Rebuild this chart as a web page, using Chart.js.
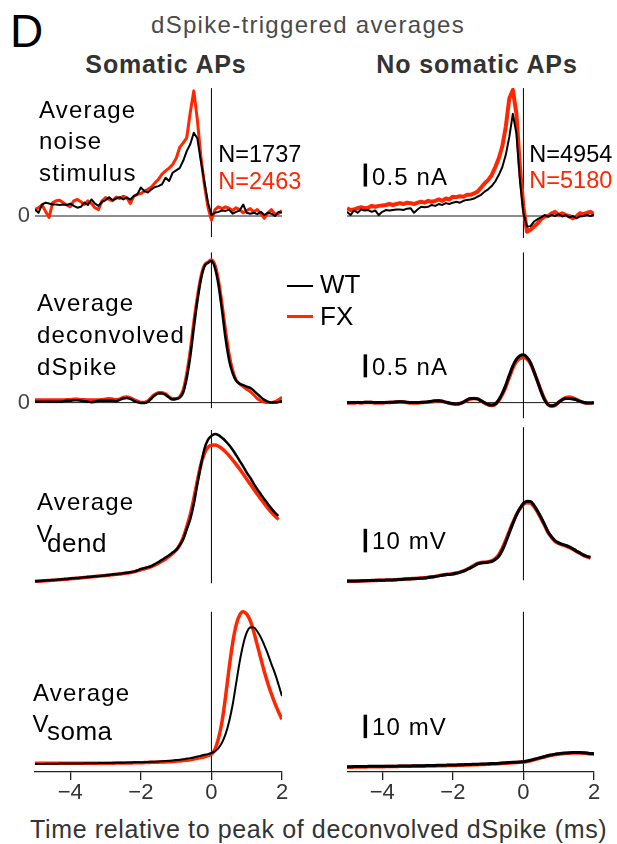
<!DOCTYPE html>
<html><head><meta charset="utf-8">
<script src="https://cdn.jsdelivr.net/npm/chart.js@4.4.0/dist/chart.umd.min.js"></script>
<style>
html,body{margin:0;padding:0;background:#fff;}
#fig{position:relative;width:617px;height:844px;overflow:hidden;background:#fff;font-family:"Liberation Sans",Arial,Helvetica,sans-serif;}
#fig canvas{position:absolute;}
.t{position:absolute;white-space:nowrap;line-height:1;}
.lg{position:absolute;}
</style></head><body><div id="fig"></div>
<script>
// ---------------- DATA ----------------
const timeMs = [-5.0,-4.9,-4.8,-4.7,-4.6,-4.5,-4.4,-4.3,-4.2,-4.1,-4.0,-3.9,-3.8,-3.7,-3.6,-3.5,-3.4,-3.3,-3.2,-3.1,-3.0,-2.9,-2.8,-2.7,-2.6,-2.5,-2.4,-2.3,-2.2,-2.1,-2.0,-1.9,-1.8,-1.7,-1.6,-1.5,-1.4,-1.3,-1.2,-1.1,-1.0,-0.9,-0.8,-0.7,-0.6,-0.5,-0.4,-0.3,-0.2,-0.1,0.0,0.1,0.2,0.3,0.4,0.5,0.6,0.7,0.8,0.9,1.0,1.1,1.2,1.3,1.4,1.5,1.6,1.7,1.8,1.9,2.0];
const xTickValues = [-4, -2, 0, 2];
const yZeroTick = [0];
const columnTitles = ['Somatic APs', 'No somatic APs'];
const seriesNames = ['WT', 'FX'];
const nCounts = {somatic: {WT: 1737, FX: 2463}, noSomatic: {WT: 4954, FX: 5180}};

// Average noise stimulus (nA)
const noiseSomWT = [0.14,0.07,0.25,0.29,0.27,0.25,0.25,0.24,0.25,0.24, 0.27,0.22,0.18,0.20,0.29,0.24,0.36,0.27,0.22,0.31, 0.34,0.41,0.34,0.38,0.41,0.36,0.40,0.36,0.43,0.47, 0.62,0.54,0.51,0.58,0.63,0.65,0.69,0.83,0.76,0.94, 0.99,1.04,1.20,1.41,1.56,1.81,1.69,1.20,0.75,0.30, 0.02, 0.07,0.09,0.12,0.11,0.14,0.05,0.09,0.12,0.25,0.07, 0.05,0.07,0.04,0.09,0.02,0.07,0.05,0.00,0.09,0.07];
const noiseSomFX = [0.14,0.18,0.24,0.10,-0.03,0.29,0.33,0.34,0.29,0.24, 0.20,0.33,0.36,0.31,0.25,0.33,0.27,0.18,0.14,0.33, 0.40,0.36,0.33,0.41,0.38,0.43,0.40,0.27,0.43,0.47, 0.49,0.54,0.58,0.63,0.72,0.80,0.91,0.98,1.04,1.12, 1.25,1.49,1.59,1.70,2.25,2.72,2.10,1.30,0.68,0.20, -0.09, 0.14,0.20,0.16,0.20,0.17,0.12,0.18,0.14,0.07,0.12, 0.16,0.09,0.14,0.05,-0.05,0.07,0.14,0.04,0.05,0.12];
const noiseNoSomWT = [0.09,0.02,0.12,0.07,0.14,0.12,0.13,0.09,0.12,0.02, 0.09,0.13,0.12,0.13,0.14,0.14,0.13,0.16,0.17,0.07, 0.14,0.20,0.19,0.20,0.24,0.22,0.26,0.24,0.28,0.26, 0.29,0.31,0.29,0.33,0.35,0.36,0.38,0.42,0.46,0.53, 0.58,0.65,0.75,0.89,1.06,1.33,1.72,2.22,1.80,0.78, 0.06, -0.23,-0.22,-0.12,-0.07,-0.03,0.02,-0.01,0.02,0.00,0.04, -0.01,0.02,-0.03,0.00,-0.05,-0.01,0.00,0.02,0.00,0.02];
const noiseNoSomFX = [0.17,0.13,0.14,0.17,0.19,0.17,0.18,0.22,0.20,0.22, 0.23,0.24,0.26,0.24,0.26,0.28,0.26,0.29,0.28,0.26, 0.29,0.31,0.29,0.33,0.31,0.33,0.36,0.33,0.38,0.36, 0.42,0.41,0.43,0.42,0.46,0.46,0.49,0.53,0.62,0.71, 0.78,0.89,1.06,1.25,1.51,1.94,2.56,2.74,2.23,1.07, 0.20, -0.34,-0.30,-0.23,-0.16,-0.07,-0.01,0.00,0.06,0.09,0.02, 0.06,0.02,0.00,-0.05,-0.01,0.06,0.04,0.07,0.09,0.04];

// Average deconvolved dSpike (nA)
const dspikeSomWT = [0.02,0.02,0.02,0.02,0.02,0.02,0.02,0.02,0.03,0.04, 0.04,0.05,0.05,0.04,0.03,0.02,0.01,0.02,0.04,0.04, 0.04,0.04,0.04,0.03,0.06,0.09,0.10,0.08,0.04,0.01, -0.01,-0.01,0.02,0.09,0.16,0.20,0.20,0.17,0.11,0.07, 0.08,0.11,0.22,0.53,1.00,1.62,2.20,2.67,2.96,3.04, 3.08, 2.93,2.56,2.01,1.40,0.93,0.64,0.48,0.41,0.38,0.35, 0.32,0.26,0.19,0.12,0.06,0.02,0.00,0.00,0.01,0.04];
const dspikeSomFX = [0.06,0.06,0.06,0.06,0.06,0.06,0.06,0.06,0.06,0.07, 0.07,0.08,0.08,0.07,0.07,0.06,0.06,0.06,0.06,0.07, 0.08,0.09,0.08,0.07,0.08,0.12,0.13,0.11,0.07,0.04, 0.01,0.01,0.04,0.12,0.18,0.22,0.22,0.19,0.13,0.09, 0.09,0.13,0.28,0.64,1.14,1.76,2.30,2.74,2.99,3.06, 3.11, 3.00,2.67,2.16,1.58,1.07,0.71,0.49,0.41,0.35,0.29, 0.24,0.17,0.09,0.04,0.01,0.00,0.00,0.02,0.06,0.12];
const dspikeNoSomWT = [0.00,0.00,0.00,0.00,0.00,0.01,0.01,0.01,0.00,0.00, 0.00,0.00,0.01,0.01,0.02,0.02,0.02,0.01,0.00,0.00, 0.00,0.01,0.01,0.02,0.03,0.04,0.04,0.03,0.01,-0.01, -0.02,-0.03,-0.02,0.01,0.06,0.09,0.09,0.08,0.04,0.00, -0.04,-0.05,-0.03,0.06,0.20,0.38,0.60,0.80,0.94,1.02, 1.04, 0.99,0.87,0.67,0.46,0.24,0.06,-0.05,-0.07,-0.05,0.01, 0.06,0.09,0.09,0.08,0.06,0.03,0.01,-0.01,-0.01,0.00];
const dspikeNoSomFX = [-0.01,-0.01,-0.01,0.00,-0.01,0.00,0.00,0.00,-0.01,-0.01, -0.01,0.00,0.00,0.01,0.01,0.02,0.01,0.00,-0.01,-0.01, -0.01,0.00,0.01,0.01,0.02,0.03,0.04,0.03,0.01,-0.01, -0.03,-0.03,-0.02,0.01,0.05,0.08,0.09,0.08,0.04,-0.01, -0.05,-0.06,-0.04,0.04,0.17,0.34,0.55,0.75,0.89,0.96, 0.98, 0.95,0.85,0.67,0.47,0.26,0.08,-0.04,-0.08,-0.06,0.01, 0.07,0.11,0.12,0.10,0.07,0.03,0.00,-0.01,-0.01,0.00];

// Average V dend (mV, relative to baseline)
const vdendSomWT = [0.0,0.1,0.2,0.3,0.4,0.5,0.7,0.8,0.9,1.0, 1.2,1.3,1.4,1.5,1.7,1.8,1.9,2.1,2.2,2.4, 2.5,2.7,2.9,3.0,3.2,3.4,3.6,3.8,4.1,4.6, 5.2,5.6,6.0,6.5,7.3,8.2,9.1,10.1,11.1,12.2, 13.3,15.3,17.9,22.1,26.4,32.8,41.3,49.1,56.2,60.1, 61.8, 62.6,62.1,61.0,59.6,57.9,55.9,53.6,51.2,48.8,46.2, 44.0,41.4,39.1,37.0,34.9,32.9,30.9,29.2,27.8,null];
const vdendSomFX = [0.1,0.0,0.1,0.2,0.3,0.4,0.5,0.7,0.8,0.9, 1.1,1.2,1.3,1.5,1.6,1.8,1.9,2.0,2.2,2.3, 2.5,2.6,2.8,3.0,3.1,3.3,3.5,3.7,4.0,4.4, 4.9,5.3,5.7,6.2,6.9,7.7,8.6,9.5,10.6,11.8, 13.2,15.4,18.6,23.2,28.3,35.0,42.6,49.6,54.3,56.9, 57.8, 57.9,57.4,56.4,55.0,53.4,51.6,49.7,47.7,45.6,43.4, 41.3,39.1,37.0,35.0,33.0,31.1,29.3,27.7,26.3,null];
const vdendNoSomWT = [0.1,0.1,0.1,0.1,0.2,0.2,0.3,0.3,0.4,0.4, 0.4,0.5,0.6,0.6,0.7,0.8,0.9,1.0,1.0,1.1, 1.2,1.3,1.4,1.6,1.8,2.0,2.3,2.6,2.8,2.9, 3.1,3.4,3.8,4.3,5.0,5.7,6.5,7.4,7.8,7.9, 8.1,8.4,9.2,10.6,13.2,16.7,20.6,24.5,28.1,30.9, 33.1, 34.0,33.9,32.3,29.9,27.1,24.1,21.0,18.9,17.2,16.3, 15.7,15.2,14.6,13.8,12.9,12.1,11.2,10.6,10.2,null];
const vdendNoSomFX = [0.0,0.0,0.0,0.1,0.1,0.2,0.2,0.3,0.3,0.4, 0.4,0.5,0.5,0.6,0.7,0.8,0.9,1.0,1.1,1.2, 1.3,1.4,1.5,1.7,1.9,2.1,2.4,2.7,2.9,3.0, 3.2,3.5,3.9,4.4,5.1,5.9,6.8,7.6,8.0,8.1, 8.3,8.7,9.7,11.3,14.0,17.5,21.3,25.0,28.3,30.8, 32.7, 33.4,33.2,31.7,29.4,26.6,23.7,20.7,18.6,16.9,16.1, 15.5,15.0,14.4,13.6,12.7,11.9,11.0,10.4,9.9,null];

// Average V soma (mV, relative to baseline)
const vsomaSomWT = [1.3,1.3,1.3,1.4,1.4,1.4,1.4,1.5,1.5,1.5, 1.5,1.5,1.5,1.5,1.6,1.6,1.6,1.6,1.7,1.7, 1.7,1.7,1.8,1.8,1.8,1.8,1.9,1.9,2.0,2.0, 2.1,2.1,2.2,2.3,2.3,2.4,2.5,2.6,2.7,2.8, 3.0,3.1,3.3,3.6,3.8,4.1,4.5,4.8,5.2,5.5, 6.0, 6.7,8.1,10.4,14.0,19.3,26.4,35.6,44.8,52.2,57.2, 59.4,59.4,57.7,55.2,51.8,48.1,43.8,39.9,35.2,30.2];
const vsomaSomFX = [1.6,1.6,1.6,1.6,1.6,1.6,1.6,1.6,1.6,1.6, 1.6,1.6,1.6,1.6,1.6,1.6,1.6,1.6,1.6,1.6, 1.6,1.6,1.6,1.7,1.7,1.7,1.7,1.7,1.8,1.8, 1.8,1.9,1.9,2.0,2.0,2.1,2.2,2.2,2.3,2.4, 2.5,2.6,2.8,2.9,3.1,3.4,3.7,4.0,4.4,4.9, 5.5, 7.5,12.2,19.3,29.9,42.0,52.6,60.4,64.7,66.1,65.1, 62.3,57.6,51.9,46.2,40.6,35.6,31.1,27.1,23.5,20.3];
const vsomaNoSomWT = [0.1,0.1,0.2,0.2,0.2,0.2,0.3,0.3,0.3,0.3, 0.3,0.4,0.4,0.4,0.4,0.5,0.5,0.5,0.5,0.6, 0.6,0.6,0.6,0.7,0.7,0.7,0.8,0.8,0.8,0.9, 0.9,0.9,1.0,1.0,1.1,1.1,1.2,1.2,1.3,1.3, 1.4,1.5,1.5,1.6,1.7,1.8,1.9,2.0,2.1,2.2, 2.3, 2.6,2.9,3.3,3.7,4.1,4.5,4.9,5.2,5.5,5.7, 5.9,6.0,6.1,6.2,6.2,6.2,6.1,6.0,5.8,5.7];
const vsomaNoSomFX = [-0.1,-0.1,0.0,0.0,0.0,0.0,0.1,0.1,0.1,0.1, 0.1,0.2,0.2,0.2,0.2,0.3,0.3,0.3,0.3,0.4, 0.4,0.4,0.4,0.5,0.5,0.5,0.6,0.6,0.6,0.7, 0.7,0.7,0.8,0.8,0.9,0.9,1.0,1.0,1.1,1.1, 1.2,1.3,1.3,1.4,1.5,1.6,1.7,1.8,1.9,2.0, 2.1, 2.4,2.7,3.1,3.5,3.9,4.3,4.7,5.0,5.3,5.5, 5.7,5.8,5.9,6.0,6.0,6.0,5.9,5.8,5.6,5.5];

const scaleBarValues = [0.5, 0.5, 10, 10];
const scaleBarUnits = ['nA', 'nA', 'mV', 'mV'];

// ---------------- STYLE / LAYOUT ----------------
const RED = '#ff2600';
const FONT = '"Liberation Sans", Arial, Helvetica, sans-serif';
Chart.defaults.font.family = FONT;

const fig = document.getElementById('fig');

const decor = {
  id: 'decor',
  beforeDatasetsDraw(chart, args, o) {
    const ctx = chart.ctx, x = chart.scales.x, y = chart.scales.y;
    ctx.save();
    if (o.zero) {
      const py = y.getPixelForValue(0);
      ctx.strokeStyle = '#1a1a1a'; ctx.lineWidth = 1;
      ctx.beginPath();
      ctx.moveTo(x.getPixelForValue(x.min), py);
      ctx.lineTo(x.getPixelForValue(x.max), py);
      ctx.stroke();
    }
    if (o.vline) {
      const px = x.getPixelForValue(0);
      ctx.strokeStyle = '#000'; ctx.lineWidth = 1;
      ctx.beginPath();
      ctx.moveTo(px, y.getPixelForValue(o.vline.top));
      ctx.lineTo(px, y.getPixelForValue(o.vline.bottom));
      ctx.stroke();
    }
    ctx.restore();
  },
  afterDatasetsDraw(chart, args, o) {
    if (!o.bar) return;
    const ctx = chart.ctx, x = chart.scales.x, y = chart.scales.y;
    const px = x.getPixelForValue(o.bar.x);
    const y0 = y.getPixelForValue(o.bar.from), y1 = y.getPixelForValue(o.bar.from + o.bar.len);
    ctx.save();
    ctx.fillStyle = '#000';
    ctx.fillRect(px - 1.75, y1, 3.5, y0 - y1);
    ctx.restore();
  }
};
Chart.register(decor);

const rows = [
  {top: 78,  area: 161, ymin: -0.5, ymax: 3.0, zero: true,  yTicks: yZeroTick, smooth: false},
  {top: 251, area: 170, ymin: -0.4, ymax: 3.3, zero: true,  yTicks: yZeroTick, smooth: true},
  {top: 426, area: 160, ymin: -2,   ymax: 66,  zero: false, yTicks: [], smooth: true},
  {top: 608, area: 164, ymin: -2.1, ymax: 67.7, zero: false, yTicks: [], smooth: true, xAxis: true}
];
const panelData = [
  [[noiseSomWT, noiseSomFX], [noiseNoSomWT, noiseNoSomFX]],
  [[dspikeSomWT, dspikeSomFX], [dspikeNoSomWT, dspikeNoSomFX]],
  [[vdendSomWT, vdendSomFX], [vdendNoSomWT, vdendNoSomFX]],
  [[vsomaSomWT, vsomaSomFX], [vsomaNoSomWT, vsomaNoSomFX]]
];
const lineWidths = [
  [[2, 3], [2, 4]],
  [[2.5, 3], [3, 3.5]],
  [[2.5, 3.5], [3, 3.5]],
  [[2, 3.5], [3, 3.5]]
];
const vlines = [
  [{top: 2.78, bottom: -0.46}, {top: 2.78, bottom: -0.48}],
  [{top: 3.27, bottom: -0.12}, {top: 3.27, bottom: -0.34}],
  [{top: 64.3, bottom: -0.85}, {top: 65.5, bottom: 0.43}],
  [{top: 66.1, bottom: -2.1}, {top: 66.1, bottom: -2.1}]
];
const barFrom = [0.64, 0.55, 12.3, 12.3];
const cols = [{left: 0, width: 300, padRight: 18, yAxis: true}, {left: 347, width: 270, padRight: 23, yAxis: false}];

function fmtTick(v) { return v < 0 ? '\u2212' + Math.abs(v) : String(v); }

rows.forEach((r, ri) => {
  cols.forEach((c, ci) => {
    const cv = document.createElement('canvas');
    const h = r.area + (r.xAxis ? 40 : 0);
    cv.width = c.width; cv.height = h;
    cv.style.left = c.left + 'px'; cv.style.top = r.top + 'px';
    cv.style.width = c.width + 'px'; cv.style.height = h + 'px';
    fig.appendChild(cv);
    const [wt, fx] = panelData[ri][ci];
    const mk = (vals, color, w, label) => ({
      label, borderColor: color, borderWidth: w, pointRadius: 0, fill: false,
      data: timeMs.map((t, i) => ({x: t, y: vals[i]})).filter(p => p.y !== null),
      tension: 0, cubicInterpolationMode: r.smooth ? 'monotone' : 'default',
      borderJoinStyle: 'round', borderCapStyle: 'butt'
    });
    const xScale = {
      type: 'linear', min: -5, max: 2, display: !!r.xAxis,
      afterBuildTicks: s => { s.ticks = xTickValues.map(v => ({value: v})); },
      grid: {display: true, drawOnChartArea: false, drawTicks: true, tickLength: 8, color: '#222', lineWidth: 1.3},
      border: {display: true, color: '#222', width: 1.3},
      ticks: {font: {size: 22, family: FONT}, color: '#333', padding: 0, maxRotation: 0, autoSkip: false, callback: v => fmtTick(v)}
    };
    if (r.xAxis) xScale.afterFit = s => { s.height = 40; s.paddingLeft = 0; s.paddingRight = 0; };
    const yScale = {
      type: 'linear', min: r.ymin, max: r.ymax, display: c.yAxis,
      afterBuildTicks: s => { s.ticks = r.yTicks.map(v => ({value: v})); },
      grid: {display: false, drawTicks: false}, border: {display: false},
      ticks: {display: r.yTicks.length > 0, font: {size: 22, family: FONT}, color: '#444', padding: 5, callback: v => String(v)}
    };
    if (c.yAxis) yScale.afterFit = s => { s.width = 35; s.paddingTop = 0; s.paddingBottom = 0; };
    new Chart(cv, {
      type: 'line',
      data: {datasets: [
        mk(wt, '#000', lineWidths[ri][ci][0], seriesNames[0]),
        mk(fx, RED, lineWidths[ri][ci][1], seriesNames[1])
      ]},
      options: {
        responsive: false, animation: false, events: [],
        layout: {padding: {left: 0, top: 0, bottom: 0, right: c.padRight}},
        plugins: {
          legend: {display: false}, tooltip: {enabled: false},
          decor: {
            zero: r.zero, vline: vlines[ri][ci],
            bar: ci === 1 ? {x: -4.48, from: barFrom[ri], len: scaleBarValues[ri]} : null
          }
        },
        scales: {x: xScale, y: yScale}
      }
    });
  });
});

// ---------------- TEXT ----------------
function txt(s, opt) {
  const d = document.createElement('div');
  d.className = 't';
  d.textContent = s;
  const size = opt.size || 24;
  d.style.fontSize = size + 'px';
  d.style.top = (opt.b - 0.8465 * size) + 'px';
  d.style.color = opt.color || '#000';
  if (opt.bold) d.style.fontWeight = 'bold';
  if (opt.ls) d.style.letterSpacing = opt.ls + 'px';
  if (opt.cx !== undefined) { d.style.left = opt.cx + 'px'; d.style.transform = 'translateX(-50%)'; }
  else d.style.left = opt.x + 'px';
  fig.appendChild(d);
}
txt('D', {x: 10, b: 47, size: 46});
txt('dSpike-triggered averages', {cx: 308, b: 33.3, size: 24, color: '#4a4a4a', ls: 1.3});
txt(columnTitles[0], {cx: 166, b: 72.7, size: 25, bold: true, color: '#333', ls: 0.85});
txt(columnTitles[1], {cx: 477, b: 73.3, size: 25, bold: true, color: '#333', ls: 0.85});

const RL = {size: 24, ls: 1.2};
txt('Average', {...RL, x: 39, b: 118.3});
txt('noise', {...RL, x: 39, b: 149.3});
txt('stimulus', {...RL, x: 39, b: 181.7});
txt('Average', {...RL, x: 37, b: 311.7});
txt('deconvolved', {...RL, x: 37, b: 343.3});
txt('dSpike', {...RL, x: 37, b: 375.7});
txt('Average', {...RL, x: 37, b: 510.7});
txt('V', {size: 24, x: 36.5, b: 542.7});
txt('dend', {size: 26, ls: 0.5, x: 47, b: 552.3});
txt('Average', {...RL, x: 33, b: 701.7});
txt('V', {size: 24, x: 32.5, b: 732.7});
txt('soma', {size: 26, ls: 0.5, x: 47, b: 740.3});

txt('N=' + nCounts.somatic.WT, {x: 218.3, b: 163.3, size: 23.5});
txt('N=' + nCounts.somatic.FX, {x: 218.3, b: 190, size: 23.5, color: RED});
txt('N=' + nCounts.noSomatic.WT, {x: 529.3, b: 162.8, size: 23.5});
txt('N=' + nCounts.noSomatic.FX, {x: 529.3, b: 189, size: 23.5, color: RED});

const barLabelB = [185, 375.7, 549.3, 735];
scaleBarValues.forEach((v, i) => txt(v + ' ' + scaleBarUnits[i], {x: 372, b: barLabelB[i], size: 24, ls: 1.1}));

// legend
function lgLine(y, color, th) {
  const d = document.createElement('div'); d.className = 'lg';
  d.style.left = '287px'; d.style.width = '26px'; d.style.top = (y - th / 2) + 'px'; d.style.height = th + 'px';
  d.style.background = color; fig.appendChild(d);
}
lgLine(286, '#000', 2.5);
lgLine(316, RED, 3);
txt(seriesNames[0], {x: 320, b: 293.3, size: 26});
txt(seriesNames[1], {x: 320, b: 325, size: 26});

txt('Time relative to peak of deconvolved dSpike (ms)', {x: 30, b: 838.3, size: 25, color: '#333', ls: 0.64});
</script></body></html>
